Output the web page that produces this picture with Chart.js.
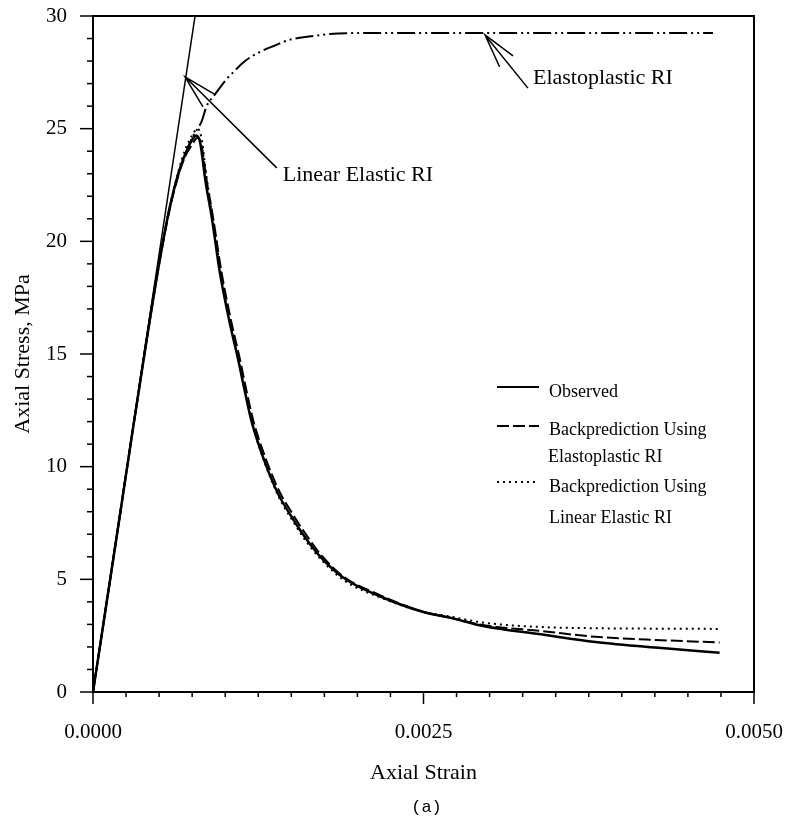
<!DOCTYPE html>
<html>
<head>
<meta charset="utf-8">
<script src="https://cdn.jsdelivr.net/npm/chart.js@4.4.1/dist/chart.umd.min.js"></script>
<style>
  html, body { margin: 0; padding: 0; background: #fff; }
</style>
</head>
<body>
<canvas id="chart" width="789" height="825"></canvas>
<script>
// valores (deformação axial / tensão em MPa)
const strainObserved = [0, 0.0001, 0.0002, 0.0003, 0.0004, 0.0005, 0.00058, 0.00065, 0.0007, 0.00074, 0.00078, 0.00081, 0.00085, 0.0009, 0.00096, 0.00103, 0.0011, 0.00115, 0.0012, 0.0013, 0.0014, 0.0015, 0.0016, 0.00172, 0.0019, 0.00217, 0.0025, 0.0027, 0.00295, 0.0034, 0.0038, 0.0043, 0.00474];
const stressObserved = [0, 3.85, 7.7, 11.6, 15.4, 19.0, 21.5, 23.1, 23.9, 24.4, 24.7, 24.4, 22.7, 21.0, 18.6, 16.5, 14.7, 13.3, 12.0, 10.2, 8.8, 7.8, 6.9, 6.0, 5.05, 4.25, 3.55, 3.3, 2.93, 2.55, 2.22, 1.95, 1.74];

const strainBackEP = [0, 0.0001, 0.0002, 0.0003, 0.0004, 0.0005, 0.00058, 0.00065, 0.0007, 0.00075, 0.00079, 0.00082, 0.00086, 0.00091, 0.00097, 0.00104, 0.00111, 0.00116, 0.00121, 0.00131, 0.00141, 0.00151, 0.00161, 0.00173, 0.0019, 0.00217, 0.0025, 0.0027, 0.00295, 0.0034, 0.0038, 0.0043, 0.00474];
const stressBackEP = [0, 3.85, 7.7, 11.6, 15.4, 19.0, 21.4, 23.0, 23.8, 24.3, 24.6, 24.3, 22.7, 21.0, 18.7, 16.6, 14.8, 13.4, 12.1, 10.3, 8.9, 7.9, 7.0, 6.05, 5.1, 4.3, 3.55, 3.3, 2.97, 2.7, 2.45, 2.3, 2.2];

const strainBackLE = [0, 0.0001, 0.0002, 0.0003, 0.0004, 0.0005, 0.00058, 0.00065, 0.0007, 0.00075, 0.00079, 0.00082, 0.00086, 0.00091, 0.00097, 0.00104, 0.00111, 0.00116, 0.00121, 0.00131, 0.00141, 0.00151, 0.00161, 0.00173, 0.0019, 0.00217, 0.0025, 0.0027, 0.00295, 0.0034, 0.0038, 0.0043, 0.00474];
const stressBackLE = [0, 3.85, 7.7, 11.6, 15.4, 19.0, 21.5, 23.2, 24.1, 24.7, 25.0, 24.6, 22.8, 20.9, 18.5, 16.3, 14.5, 13.1, 11.8, 10.0, 8.6, 7.6, 6.7, 5.85, 4.95, 4.2, 3.55, 3.35, 3.08, 2.88, 2.83, 2.81, 2.8];

const strainElastoplasticRI = [0, 0.0001, 0.0003, 0.0005, 0.0006, 0.0007, 0.00076, 0.00082, 0.00086, 0.00092, 0.00101, 0.00106, 0.00115, 0.00126, 0.00138, 0.00149, 0.00165, 0.00179, 0.00217, 0.003, 0.00469];
const stressElastoplasticRI = [0, 3.85, 11.6, 19.1, 22.0, 23.9, 24.7, 25.3, 26.0, 26.5, 27.2, 27.5, 28.0, 28.4, 28.7, 28.95, 29.1, 29.2, 29.25, 29.25, 29.25];

const strainLinearRI = [0, 0.000772];
const stressLinearRI = [0, 30];

const xTickValues = [0, 0.0025, 0.005];
const xTickLabels = ['0.0000', '0.0025', '0.0050'];
const yTickValues = [0, 5, 10, 15, 20, 25, 30];

function pontos(xs, ys) {
    return xs.map((x, i) => ({ x: x, y: ys[i] }));
}

const serif = 'Liberation Serif';

// zera o padding extra que a escala pede para os rótulos
function semPadding(s) {
    s.paddingTop = 0;
    s.paddingBottom = 0;
    s.paddingLeft = 0;
    s.paddingRight = 0;
}

// Plugin para ticks menores, moldura, legenda e setas
const extras = {
    id: 'extras',
    afterDraw(chart) {
        const ctx = chart.ctx;
        const area = chart.chartArea;
        const xs = chart.scales.x;
        const ys = chart.scales.y;
        ctx.save();
        ctx.strokeStyle = '#000';
        ctx.fillStyle = '#000';

        // moldura superior e direita
        ctx.lineWidth = 2;
        ctx.beginPath();
        ctx.moveTo(area.left, area.top);
        ctx.lineTo(area.right, area.top);
        ctx.lineTo(area.right, area.bottom);
        ctx.stroke();

        // ticks do eixo y (1 MPa)
        ctx.lineWidth = 1.5;
        for (let v = 0; v <= 30; v++) {
            const py = ys.getPixelForValue(v);
            const len = v % 5 === 0 ? 13 : 6;
            ctx.beginPath();
            ctx.moveTo(area.left - len, py);
            ctx.lineTo(area.left, py);
            ctx.stroke();
        }
        // ticks do eixo x (0.00025)
        for (let i = 0; i <= 20; i++) {
            const px = xs.getPixelForValue(i * 0.00025);
            const len = i % 10 === 0 ? 12 : 5;
            ctx.beginPath();
            ctx.moveTo(px, area.bottom);
            ctx.lineTo(px, area.bottom + len);
            ctx.stroke();
        }

        // setas de anotação
        function seta(tx, ty, ex, ey) {
            const ax = xs.getPixelForValue(tx), ay = ys.getPixelForValue(ty);
            const bx = xs.getPixelForValue(ex), by = ys.getPixelForValue(ey);
            const ang = Math.atan2(by - ay, bx - ax);
            ctx.lineWidth = 1.5;
            ctx.beginPath();
            ctx.moveTo(bx, by);
            ctx.lineTo(ax, ay);
            ctx.moveTo(ax + 35 * Math.cos(ang - 0.25), ay + 35 * Math.sin(ang - 0.25));
            ctx.lineTo(ax, ay);
            ctx.lineTo(ax + 35 * Math.cos(ang + 0.25), ay + 35 * Math.sin(ang + 0.25));
            ctx.stroke();
            return { x: bx, y: by };
        }
        ctx.font = '22px "' + serif + '"';
        ctx.textBaseline = 'middle';
        ctx.textAlign = 'left';
        const p1 = seta(0.000696, 27.3, 0.00139, 23.26);
        ctx.fillText('Linear Elastic RI', p1.x + 6, p1.y + 7);
        const p2 = seta(0.002965, 29.16, 0.00329, 26.8);
        ctx.fillText('Elastoplastic RI', p2.x + 5, p2.y - 10);

        // legenda
        const lx = area.left + 404;
        const tx = lx + 52;
        ctx.font = '18px "' + serif + '"';
        ctx.lineWidth = 2;
        const linha = (y, dash) => {
            ctx.setLineDash(dash);
            ctx.beginPath();
            ctx.moveTo(lx, y);
            ctx.lineTo(lx + 42, y);
            ctx.stroke();
            ctx.setLineDash([]);
        };
        linha(387, []);
        ctx.fillText('Observed', tx, 392);
        linha(426, [12, 4]);
        ctx.fillText('Backprediction Using', tx, 430);
        ctx.fillText('Elastoplastic RI', tx - 1, 457);
        linha(482, [2, 4]);
        ctx.fillText('Backprediction Using', tx, 487);
        ctx.fillText('Linear Elastic RI', tx, 518);

        // legenda da figura
        ctx.font = '17px "Liberation Mono"';
        ctx.textAlign = 'center';
        ctx.fillText('(a)', (area.left + area.right) / 2 + 3, 807);
        ctx.restore();
    }
};

const ctx = document.getElementById('chart').getContext('2d');
const chart = new Chart(ctx, {
    type: 'scatter',
    data: {
        datasets: [
            {
                label: 'Linear Elastic RI',
                data: pontos(strainLinearRI, stressLinearRI),
                showLine: true,
                borderColor: '#000',
                borderWidth: 1.5,
                pointRadius: 0
            },
            {
                label: 'Elastoplastic RI',
                data: pontos(strainElastoplasticRI, stressElastoplasticRI),
                showLine: true,
                borderColor: '#000',
                borderWidth: 2,
                borderDash: [18, 4, 2, 4, 2, 4],
                cubicInterpolationMode: 'monotone',
                pointRadius: 0
            },
            {
                label: 'Backprediction Using Linear Elastic RI',
                data: pontos(strainBackLE, stressBackLE),
                showLine: true,
                borderColor: '#000',
                borderWidth: 2,
                borderDash: [2, 4],
                cubicInterpolationMode: 'monotone',
                pointRadius: 0
            },
            {
                label: 'Backprediction Using Elastoplastic RI',
                data: pontos(strainBackEP, stressBackEP),
                showLine: true,
                borderColor: '#000',
                borderWidth: 2,
                borderDash: [12, 4],
                cubicInterpolationMode: 'monotone',
                pointRadius: 0
            },
            {
                label: 'Observed',
                data: pontos(strainObserved, stressObserved),
                showLine: true,
                borderColor: '#000',
                borderWidth: 2.5,
                cubicInterpolationMode: 'monotone',
                pointRadius: 0
            }
        ]
    },
    options: {
        responsive: false,
        animation: false,
        devicePixelRatio: 1,
        layout: { padding: { left: 10, right: 35, top: 16, bottom: 39 } },
        plugins: {
            legend: { display: false },
            tooltip: { enabled: false }
        },
        scales: {
            x: {
                type: 'linear',
                min: 0,
                max: 0.005,
                afterBuildTicks: (s) => { s.ticks = xTickValues.map(v => ({ value: v })); },
                afterFit: (s) => { s.height = 94; semPadding(s); },
                ticks: {
                    callback: (v, i) => xTickLabels[i],
                    font: { family: serif, size: 21 },
                    color: '#000',
                    padding: 28,
                    maxRotation: 0
                },
                grid: { drawOnChartArea: false, drawTicks: false },
                border: { display: true, color: '#000', width: 2 },
                title: {
                    display: true,
                    text: 'Axial Strain',
                    font: { family: serif, size: 22 },
                    color: '#000',
                    padding: { top: 0, bottom: 0 }
                }
            },
            y: {
                min: 0,
                max: 30,
                afterBuildTicks: (s) => { s.ticks = yTickValues.map(v => ({ value: v })); },
                afterFit: (s) => { s.width = 83; semPadding(s); },
                ticks: {
                    font: { family: serif, size: 21 },
                    color: '#000',
                    padding: 26
                },
                grid: { drawOnChartArea: false, drawTicks: false },
                border: { display: true, color: '#000', width: 2 },
                title: {
                    display: true,
                    text: 'Axial Stress, MPa',
                    font: { family: serif, size: 22 },
                    color: '#000',
                    padding: { top: 0, bottom: 0 }
                }
            }
        }
    },
    plugins: [extras]
});
</script>
</body>
</html>
